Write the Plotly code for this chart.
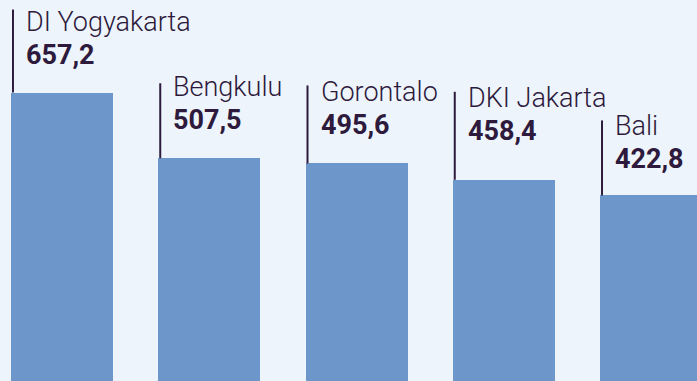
import plotly.graph_objects as go

# Provinces and their values
provinces = ["DI Yogyakarta", "Bengkulu", "Gorontalo", "DKI Jakarta", "Bali"]
values = [657.2, 507.5, 495.6, 458.4, 422.8]

# label placement above each bar (pixels): gap under the value text, leader length
label_gap = [31, 31, 31, 42, 29]
leader_len = [83, 75, 78, 88, 75]

BG = "#EDF4FB"
BAR = "#6D96CB"
INK = "#2D1A3C"
BAR_W = 0.693
FONT = 27
LINE_STEP = 33

positions = list(range(len(provinces)))

fig = go.Figure(
    go.Bar(
        x=positions,
        y=values,
        width=BAR_W,
        marker=dict(color=BAR, line=dict(width=0)),
        hoverinfo="skip",
    )
)

def fmt(v):
    return f"{v:.1f}".replace(".", ",")

for i, (name, v) in enumerate(zip(provinces, values)):
    left = i - BAR_W / 2
    # thin leader line rising from the bar's top-left corner
    fig.add_shape(
        type="line",
        xref="x", yref="y",
        xsizemode="pixel", xanchor=left, x0=2, x1=2,
        ysizemode="pixel", yanchor=v, y0=0, y1=leader_len[i],
        line=dict(color=INK, width=2),
    )
    shift = label_gap[i] - 11
    # bold value
    fig.add_annotation(
        x=left, y=v, xref="x", yref="y",
        xanchor="left", yanchor="bottom",
        xshift=13, yshift=shift,
        showarrow=False,
        text=f"<b>{fmt(v)}</b>",
        font=dict(family="Roboto", size=FONT, color=INK),
    )
    # province name
    fig.add_annotation(
        x=left, y=v, xref="x", yref="y",
        xanchor="left", yanchor="bottom",
        xshift=13, yshift=shift + LINE_STEP,
        showarrow=False,
        text=name,
        font=dict(family="Roboto", size=FONT, color=INK, weight=300),
    )

fig.update_layout(
    width=697, height=381,
    margin=dict(l=0, r=0, t=0, b=0),
    paper_bgcolor=BG, plot_bgcolor=BG,
    showlegend=False,
    bargap=0,
    xaxis=dict(visible=False, range=[-0.421, 4.312], fixedrange=True),
    yaxis=dict(visible=False, range=[0, 868], fixedrange=True),
)

fig.write_html("out.html")
